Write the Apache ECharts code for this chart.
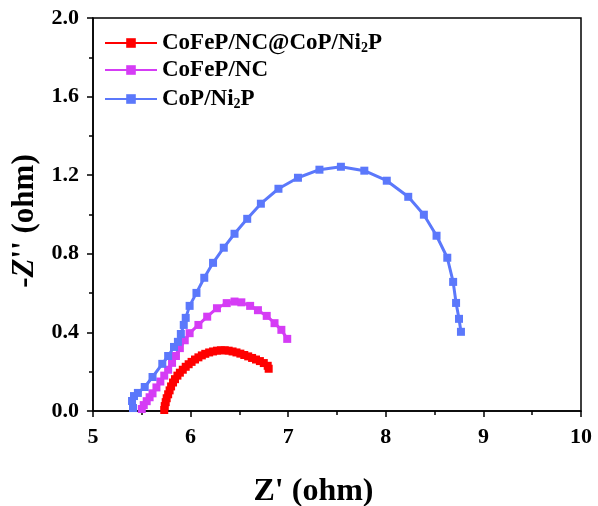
<!DOCTYPE html>
<html><head><meta charset="utf-8">
<script src="https://cdn.jsdelivr.net/npm/echarts@6/dist/echarts.min.js"></script>
<style>html,body{margin:0;padding:0;background:#fff}#c{width:598px;height:506px}</style>
</head><body><div id="c"></div>
<script>
const seriesNames = ['CoFeP/NC@CoP/Ni2P', 'CoFeP/NC', 'CoP/Ni2P'];
const xTicks = [5, 6, 7, 8, 9, 10];
const yTicks = [0.0, 0.4, 0.8, 1.2, 1.6, 2.0];

const redX = [5.73,5.735,5.745,5.755,5.77,5.785,5.80,5.82,5.84,5.865,5.89,5.92,5.95,5.98,6.01,6.045,6.08,6.115,6.15,6.19,6.23,6.27,6.31,6.35,6.39,6.43,6.47,6.51,6.55,6.59,6.63,6.67,6.71,6.75,6.79,6.80];
const redY = [0.005,0.025,0.045,0.065,0.085,0.105,0.125,0.145,0.162,0.18,0.195,0.21,0.225,0.238,0.25,0.262,0.273,0.283,0.291,0.298,0.303,0.307,0.309,0.309,0.307,0.303,0.298,0.292,0.285,0.278,0.27,0.262,0.254,0.244,0.23,0.215];

const magX = [5.50,5.52,5.55,5.58,5.61,5.65,5.69,5.73,5.77,5.81,5.85,5.89,5.94,5.99,6.08,6.17,6.27,6.37,6.45,6.52,6.61,6.69,6.78,6.86,6.93,6.99];
const magY = [0.01,0.03,0.05,0.07,0.09,0.12,0.15,0.18,0.21,0.245,0.28,0.32,0.36,0.396,0.438,0.48,0.523,0.549,0.557,0.553,0.535,0.513,0.484,0.447,0.413,0.367];

const bluX = [5.41,5.40,5.42,5.46,5.53,5.61,5.71,5.77,5.83,5.87,5.90,5.93,5.95,5.99,6.06,6.14,6.23,6.34,6.45,6.58,6.72,6.90,7.10,7.32,7.54,7.78,8.01,8.23,8.39,8.52,8.63,8.69,8.72,8.75,8.77];
const bluY = [0.015,0.051,0.076,0.092,0.122,0.173,0.240,0.280,0.326,0.352,0.392,0.438,0.474,0.535,0.601,0.678,0.754,0.831,0.902,0.978,1.055,1.131,1.187,1.228,1.243,1.223,1.172,1.090,0.999,0.892,0.780,0.657,0.550,0.469,0.403];

const colors = ['#ff0000', '#d53cf5', '#5b78fb'];
const zip = (a, b) => a.map((v, i) => [v, b[i]]);
const datas = [zip(redX, redY), zip(magX, magY), zip(bluX, bluY)];

const FONT = '"Liberation Serif", "Times New Roman", serif';
const chart = echarts.init(document.getElementById('c'));
chart.setOption({
  animation: false,
  backgroundColor: '#fff',
  grid: { left: 93, right: 17, top: 18, bottom: 95, outerBoundsMode: 'none', containLabel: false,
    show: true, borderColor: '#000', borderWidth: 1.5, backgroundColor: 'transparent' },
  legend: {
    left: 99, top: 24, orient: 'vertical', itemGap: 3, itemWidth: 52, itemHeight: 12,
    data: seriesNames,
    formatter: n => n.replace('Ni2P', 'Ni{s|2}P'),
    textStyle: { fontFamily: FONT, fontWeight: 'bold', fontSize: 23, color: '#000', lineHeight: 24,
      rich: { s: { fontFamily: FONT, fontWeight: 'bold', fontSize: 14, lineHeight: 24, verticalAlign: 'bottom', padding: [12, 0, 0, 0] } } }
  },
  xAxis: {
    type: 'value', min: xTicks[0], max: xTicks[xTicks.length - 1], interval: 1,
    name: "Z' (ohm)", nameLocation: 'middle', nameGap: 65,
    nameTextStyle: { fontFamily: FONT, fontWeight: 'bold', fontSize: 32, color: '#000', padding: [0, 47, 0, 0] },
    axisLine: { lineStyle: { color: '#000', width: 1.5 } },
    axisTick: { length: 6, lineStyle: { color: '#000', width: 1.5 } },
    minorTick: { show: true, splitNumber: 2, length: 4, lineStyle: { color: '#000', width: 1.5 } },
    splitLine: { show: false },
    axisLabel: { fontFamily: FONT, fontWeight: 'bold', fontSize: 22, color: '#000', margin: 15 }
  },
  yAxis: {
    type: 'value', min: yTicks[0], max: yTicks[yTicks.length - 1], interval: 0.4,
    name: "-{i|Z}'' (ohm)", nameLocation: 'middle', nameGap: 40, nameRotate: 90,
    nameTextStyle: { fontFamily: FONT, fontWeight: 'bold', fontSize: 31, color: '#000', padding: [0, 13, 0, 0],
      rich: { i: { fontFamily: FONT, fontWeight: 'bold', fontStyle: 'italic', fontSize: 31, color: '#000' } } },
    axisLine: { show: true, lineStyle: { color: '#000', width: 1.5 } },
    axisTick: { show: true, length: 6, lineStyle: { color: '#000', width: 1.5 } },
    minorTick: { show: true, splitNumber: 2, length: 4, lineStyle: { color: '#000', width: 1.5 } },
    splitLine: { show: false },
    axisLabel: { fontFamily: FONT, fontWeight: 'bold', fontSize: 22, color: '#000', margin: 14, formatter: v => v.toFixed(1) }
  },
  series: seriesNames.map((n, i) => ({
    name: n, type: 'line', data: datas[i], color: colors[i],
    symbol: 'rect', symbolSize: 8, showSymbol: true,
    lineStyle: { width: 3, color: colors[i] }, itemStyle: { color: colors[i] }
  }))
});
</script></body></html>
